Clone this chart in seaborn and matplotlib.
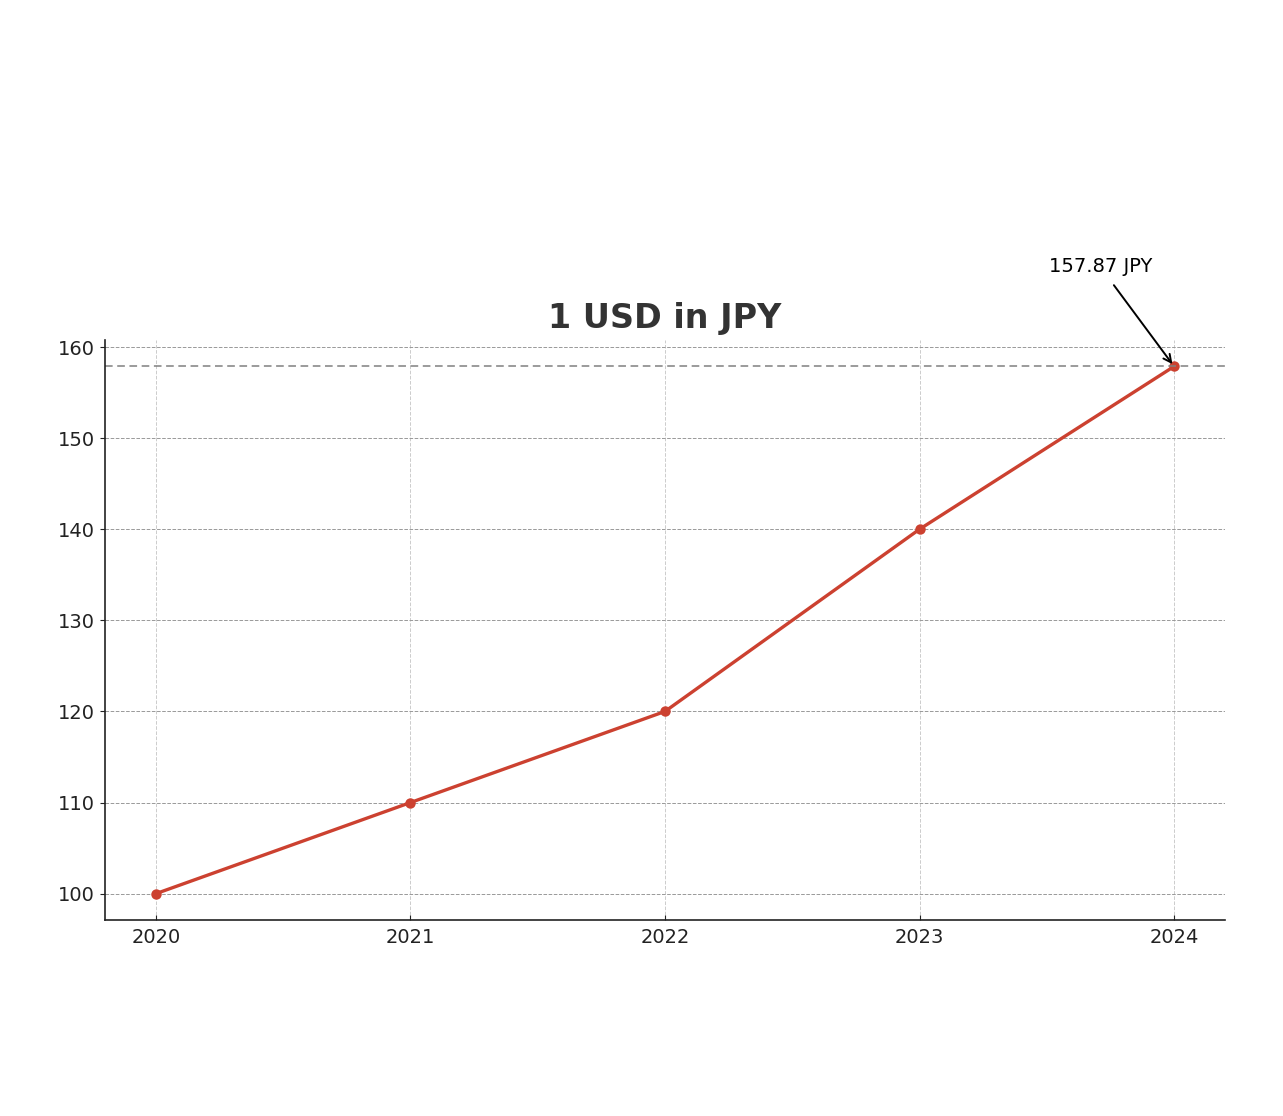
import pandas as pd
import matplotlib
matplotlib.use("Agg")
import matplotlib.pyplot as plt
import seaborn as sns

# data
years = [2020, 2021, 2022, 2023, 2024]
usd_jpy = [100, 110, 120, 140, 157.87]
last_label = "157.87 JPY"

df = pd.DataFrame({"Year": years, "JPY": usd_jpy})

sns.set_style("ticks")
plt.rcParams["font.family"] = ["DejaVu Sans"]

fig = plt.figure(figsize=(12.83, 11.16), dpi=100)
ax = fig.add_axes([0.0818, 0.1756, 0.873, 0.5197])

sns.lineplot(data=df, x="Year", y="JPY", color="#cc4130", linewidth=2.4,
             marker="o", markersize=7.5, markeredgewidth=0, ax=ax)

# reference line at the latest value
ax.axhline(usd_jpy[-1], color="gray", linestyle=(0, (5, 3)), linewidth=1.1)

ax.annotate(last_label, xy=(years[-1], usd_jpy[-1]), xytext=(2023.71, 168.8),
            ha="center", va="center", fontsize=14, color="black",
            arrowprops=dict(arrowstyle="->", color="black", lw=1.4,
                            shrinkA=5, shrinkB=2),
            annotation_clip=False)

ax.set_title("1 USD in JPY", fontsize=24, fontweight="bold", color="#333333", pad=9)
ax.set_xlabel("")
ax.set_ylabel("")
ax.set_xticks(years)
ax.set_xticklabels([str(y) for y in years])
ax.set_yticks([100, 110, 120, 130, 140, 150, 160])
ax.tick_params(axis="both", labelsize=14, colors="#222222")
ax.tick_params(axis="x", direction="in", pad=6)
ax.grid(axis="y", linestyle="--", linewidth=0.7, color="#999999")
ax.grid(axis="x", linestyle="--", linewidth=0.7, color="#cccccc")
sns.despine(ax=ax)
for s in ["left", "bottom"]:
    ax.spines[s].set_color("#222222")
    ax.spines[s].set_linewidth(1.2)

fig.savefig("out.png", dpi=100)
